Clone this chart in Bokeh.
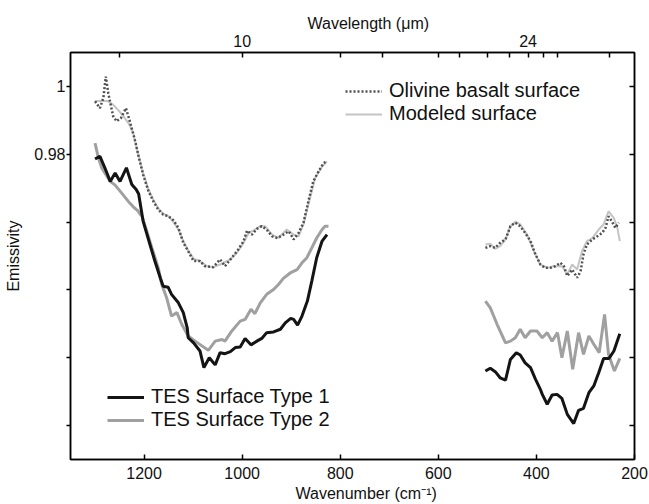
import math
from bokeh.plotting import figure
from bokeh.models import (Range1d, LinearAxis, FixedTicker, Legend, LegendItem, Title)
from bokeh.embed import file_html
from bokeh.resources import INLINE

# ---------------- data (wavenumber cm-1, emissivity) ----------------
tes1_wn_a = [1300, 1290, 1280, 1269, 1259, 1249, 1236, 1225, 1216, 1211, 1202, 1188, 1178, 1167,
             1161, 1151, 1144, 1130, 1120, 1112, 1110, 1099, 1086, 1078, 1067, 1055, 1045, 1035,
             1024, 1014, 1004, 994, 982, 970, 960, 950, 936, 922, 912, 901, 895, 887, 878, 867,
             858, 848, 837, 827]
tes1_em_a = [0.9786, 0.9794, 0.9760, 0.9720, 0.9745, 0.9720, 0.9760, 0.9711, 0.9696, 0.9683,
             0.9603, 0.9534, 0.9485, 0.9436, 0.9411, 0.9408, 0.9387, 0.9362, 0.9333, 0.9288,
             0.9259, 0.9244, 0.9220, 0.9171, 0.9200, 0.9179, 0.9215, 0.9212, 0.9218, 0.9230,
             0.9232, 0.9257, 0.9238, 0.9249, 0.9257, 0.9274, 0.9276, 0.9284, 0.9303, 0.9316,
             0.9313, 0.9296, 0.9323, 0.9367, 0.9426, 0.9495, 0.9544, 0.9563]
tes1_wn_b = [504, 494, 484, 474, 463, 453, 441, 433, 423, 412, 402, 392, 388, 378, 368, 358, 348,
             337, 324, 314, 304, 293, 283, 273, 263, 252, 242, 230]
tes1_em_b = [0.9161, 0.9169, 0.9159, 0.9141, 0.9134, 0.9195, 0.9215, 0.9208, 0.9185, 0.9171,
             0.9137, 0.9107, 0.9092, 0.9063, 0.9090, 0.9092, 0.9080, 0.9033, 0.9006, 0.9045,
             0.9051, 0.9097, 0.9117, 0.9156, 0.9198, 0.9198, 0.9220, 0.9271]

tes2_wn_a = [1300, 1293, 1286, 1269, 1259, 1246, 1232, 1222, 1212, 1208, 1204, 1184, 1171, 1164,
             1154, 1144, 1133, 1123, 1110, 1096, 1082, 1069, 1055, 1041, 1035, 1021, 1004, 994,
             982, 974, 963, 950, 936, 926, 916, 902, 888, 878, 868, 858, 848, 837, 831, 824]
tes2_em_a = [0.9833, 0.9789, 0.9759, 0.9720, 0.9709, 0.9686, 0.9661, 0.9645, 0.9632, 0.9623,
             0.9617, 0.9524, 0.9465, 0.9416, 0.9377, 0.9323, 0.9333, 0.9298, 0.9264, 0.9249,
             0.9235, 0.9222, 0.9249, 0.9254, 0.9249, 0.9279, 0.9308, 0.9313, 0.9343, 0.9330,
             0.9362, 0.9387, 0.9401, 0.9416, 0.9434, 0.9450, 0.9460, 0.9480, 0.9495, 0.9524,
             0.9553, 0.9578, 0.9588, 0.9588]
tes2_wn_b = [504, 494, 480, 463, 453, 443, 433, 423, 412, 399, 388, 378, 368, 357, 348, 337, 326,
             314, 304, 293, 283, 272, 261, 253, 241, 230]
tes2_em_b = [0.9367, 0.9347, 0.9298, 0.9244, 0.9249, 0.9259, 0.9284, 0.9259, 0.9279, 0.9279,
             0.9259, 0.9274, 0.9249, 0.9274, 0.9200, 0.9279, 0.9166, 0.9274, 0.9210, 0.9264,
             0.9240, 0.9215, 0.9328, 0.9210, 0.9161, 0.9198]

oliv_wn_a = [1300, 1290, 1283, 1278, 1273, 1263, 1256, 1247, 1237, 1229, 1218, 1212, 1202, 1191,
             1181, 1171, 1161, 1150, 1140, 1130, 1120, 1110, 1099, 1086, 1076, 1059, 1045, 1035,
             1021, 1008, 997, 990, 980, 970, 960, 950, 939, 928, 916, 905, 895, 885, 875, 865,
             855, 844, 834, 827]
oliv_em_a = [0.9956, 0.9936, 0.9966, 1.0029, 0.9980, 0.9912, 0.9897, 0.9907, 0.9936, 0.9897,
             0.9838, 0.9799, 0.9740, 0.9691, 0.9661, 0.9637, 0.9622, 0.9617, 0.9605, 0.9583,
             0.9539, 0.9514, 0.9485, 0.9485, 0.9470, 0.9467, 0.9490, 0.9470, 0.9495, 0.9519,
             0.9544, 0.9575, 0.9563, 0.9580, 0.9588, 0.9578, 0.9558, 0.9553, 0.9563, 0.9573,
             0.9549, 0.9568, 0.9598, 0.9661, 0.9720, 0.9750, 0.9774, 0.9779]
oliv_wn_b = [504, 494, 484, 474, 463, 453, 443, 433, 423, 412, 402, 392, 382, 372, 361, 351, 344,
             337, 327, 317, 310, 304, 297, 286, 276, 266, 259, 253, 246, 239, 232]
oliv_em_b = [0.9524, 0.9529, 0.9524, 0.9539, 0.9549, 0.9588, 0.9598, 0.9588, 0.9568, 0.9544,
             0.9505, 0.9475, 0.9465, 0.9465, 0.9470, 0.9480, 0.9470, 0.9441, 0.9460, 0.9436,
             0.9455, 0.9505, 0.9534, 0.9549, 0.9558, 0.9568, 0.9583, 0.9617, 0.9602, 0.9583,
             0.9598]

model_wn_a = [1300, 1287, 1273, 1263, 1253, 1242, 1232, 1222, 1215, 1202, 1191, 1181, 1171, 1161,
              1150, 1140, 1130, 1120, 1110, 1099, 1086, 1072, 1059, 1045, 1024, 1011, 997, 987,
              977, 963, 953, 939, 926, 909, 895, 885, 875, 865, 851, 837, 827]
model_em_a = [0.9956, 0.9958, 0.9956, 0.9946, 0.9931, 0.9912, 0.9892, 0.9863, 0.9818, 0.9745,
              0.9696, 0.9666, 0.9640, 0.9625, 0.9617, 0.9600, 0.9578, 0.9544, 0.9517, 0.9492,
              0.9485, 0.9470, 0.9467, 0.9475, 0.9490, 0.9509, 0.9539, 0.9568, 0.9575, 0.9588,
              0.9588, 0.9563, 0.9553, 0.9578, 0.9563, 0.9558, 0.9593, 0.9652, 0.9730, 0.9764,
              0.9779]
model_wn_b = [504, 494, 484, 474, 463, 453, 443, 433, 419, 405, 392, 378, 365, 348, 337, 327, 317,
              307, 297, 286, 273, 263, 253, 242, 235, 230]
model_em_b = [0.9534, 0.9536, 0.9521, 0.9529, 0.9549, 0.9588, 0.9601, 0.9593, 0.9563, 0.9514,
              0.9475, 0.9465, 0.9470, 0.9470, 0.9446, 0.9475, 0.9460, 0.9514, 0.9544, 0.9553,
              0.9578, 0.9593, 0.9632, 0.9612, 0.9583, 0.9544]

x_ticks = [1200, 1000, 800, 600, 400, 200]
y_ticks = [0.90, 0.92, 0.94, 0.96, 0.98, 1.00]
y_tick_labels = {1.00: "1", 0.98: "0.98"}
top_ticks_um = [8, 10, 12.5, 14, 16.667, 18, 20, 22, 24, 26, 28, 40]
top_tick_labels_um = {10: "10", 24: "24"}

FONT = "Liberation Sans"


def join(a_x, a_y, b_x, b_y):
    return list(a_x) + [math.nan] + list(b_x), list(a_y) + [math.nan] + list(b_y)


p = figure(width=649, height=504, output_backend="svg", toolbar_location=None,
           x_range=Range1d(1350, 200), y_range=Range1d(0.89, 1.01),
           x_axis_location=None, y_axis_location=None,
           min_border_left=70, min_border_right=15, min_border_top=52, min_border_bottom=45)
p.grid.visible = False
p.outline_line_color = "black"
p.outline_line_width = 1.5
p.background_fill_color = "white"
p.border_fill_color = "white"


def style_axis(ax, tin, tout, standoff):
    ax.axis_line_color = "black"
    ax.axis_line_width = 1.5
    ax.major_tick_line_color = "black"
    ax.major_tick_line_width = 1.5
    ax.major_tick_in = tin
    ax.major_tick_out = tout
    ax.minor_tick_line_color = None
    ax.major_label_text_font = FONT
    ax.major_label_text_font_size = "16px"
    ax.major_label_text_color = "#111111"
    ax.major_label_standoff = standoff
    ax.axis_label_text_font = FONT
    ax.axis_label_text_font_size = "16px"
    ax.axis_label_text_font_style = "normal"
    ax.axis_label_text_color = "#111111"


def axis_title(text, offset, standoff):
    return Title(text=text, align="left", offset=offset, standoff=standoff,
                 text_font=FONT, text_font_size="16px", text_font_style="normal",
                 text_color="#111111")


bottom = LinearAxis(ticker=FixedTicker(ticks=x_ticks))
style_axis(bottom, 5, 0, 7)
p.add_layout(bottom, "below")
p.add_layout(axis_title("Wavenumber (cm\u207b\u00b9)", 225, 2), "below")

top_ticks_wn = [round(10000.0 / u) for u in top_ticks_um]
top_over = {round(10000.0 / u): "" for u in top_ticks_um}
for u, lab in top_tick_labels_um.items():
    top_over[round(10000.0 / u)] = lab
top = LinearAxis(ticker=FixedTicker(ticks=top_ticks_wn), major_label_overrides=top_over)
style_axis(top, 5, 0, 6)
p.add_layout(top, "above")
p.add_layout(axis_title("Wavelength (\u03bcm)", 237, 0), "above")

left_over = {t: y_tick_labels.get(t, "") for t in y_ticks}
left = LinearAxis(ticker=FixedTicker(ticks=y_ticks), axis_label="Emissivity",
                  major_label_overrides=left_over)
style_axis(left, 0, 4, 1)
left.axis_label_standoff = 9
p.add_layout(left, "left")

right = LinearAxis(ticker=FixedTicker(ticks=y_ticks),
                   major_label_overrides={t: "" for t in y_ticks})
style_axis(right, 5, 0, 0)
p.add_layout(right, "right")

mx, my = join(model_wn_a, model_em_a, model_wn_b, model_em_b)
ox, oy = join(oliv_wn_a, oliv_em_a, oliv_wn_b, oliv_em_b)
t2x, t2y = join(tes2_wn_a, tes2_em_a, tes2_wn_b, tes2_em_b)
t1x, t1y = join(tes1_wn_a, tes1_em_a, tes1_wn_b, tes1_em_b)

r_model = p.line(mx, my, line_color="#c4c4c4", line_width=2)
r_oliv = p.line(ox, oy, line_color="#505050", line_width=2.5, line_dash="2 2")
r_t2 = p.line(t2x, t2y, line_color="#a0a0a0", line_width=3)
r_t1 = p.line(t1x, t1y, line_color="#141414", line_width=3)


def make_legend(items, loc):
    lg = Legend(items=items, location=loc, padding=0, margin=0, spacing=0,
                label_standoff=7, glyph_width=37, glyph_height=20, label_height=20,
                label_text_font=FONT, label_text_font_size="20px", label_text_color="#111111",
                border_line_color=None, background_fill_alpha=0)
    return lg


lg1 = make_legend([LegendItem(label="Olivine basalt surface", renderers=[r_oliv]),
                   LegendItem(label="Modeled surface", renderers=[r_model])], (275, 334))
lg2 = make_legend([LegendItem(label="TES Surface Type 1", renderers=[r_t1]),
                   LegendItem(label="TES Surface Type 2", renderers=[r_t2])], (37, 28))
p.add_layout(lg1, "center")
p.add_layout(lg2, "center")

open("out.html", "w").write(file_html(p, INLINE))
